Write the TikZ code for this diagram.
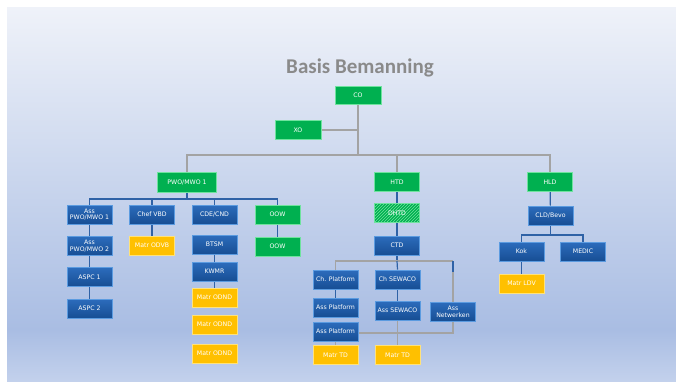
\documentclass[tikz,border=0pt]{standalone}
\usepackage{fontspec}
\setsansfont{DejaVu Sans}
\newfontfamily\titlefont{Carlito}
\usepackage{tikz}
\usetikzlibrary{patterns,shadows}

\definecolor{orggreen}{HTML}{00B050}
\definecolor{orggreenlt}{HTML}{6FE39E}
\definecolor{orgblue}{HTML}{1D5CAA}
\definecolor{orgbluetop}{HTML}{2C6CBC}
\definecolor{orgbluebot}{HTML}{174E94}
\definecolor{orgbluelt}{HTML}{5B9BE0}
\definecolor{orgyellow}{HTML}{FFC000}
\definecolor{orgyellowlt}{HTML}{FFE27A}
\definecolor{linegray}{HTML}{A3A3A3}
\definecolor{lineblue}{HTML}{2F62A6}
\definecolor{titlegray}{HTML}{8A8A8A}
\definecolor{bgtop}{HTML}{EFF2F9}
\definecolor{bgmid}{HTML}{A9BDE3}
\definecolor{bgbot}{HTML}{C3D1EC}

\pgfdeclarelayer{bg}
\pgfdeclarelayer{lines}
\pgfsetlayers{bg,lines,main}

\begin{document}
\begin{tikzpicture}[x=1pt,y=-1pt,
  font=\sffamily\fontsize{6.2}{6.8}\selectfont,
  box/.style={rectangle,minimum width=45pt,minimum height=19pt,inner sep=0pt,
    text=white,align=center,line width=0.8pt,
    drop shadow={opacity=0.35,shadow xshift=0.8pt,shadow yshift=-0.8pt}},
  gbox/.style={box,fill=orggreen,draw=orggreenlt},
  bbox/.style={box,top color=orgbluetop,bottom color=orgbluebot,draw=orgbluelt},
  ybox/.style={box,fill=orgyellow,draw=orgyellowlt},
  gline/.style={draw=linegray,line width=1.2pt},
  bline/.style={draw=lineblue,line width=1.2pt}]
  \useasboundingbox (0,0) rectangle (676,381);
  \begin{pgfonlayer}{bg}
    \fill[white] (0,0) rectangle (676,381);
    \shade[top color=bgtop,bottom color=bgmid] (7,7) rectangle (676,330);
    \shade[top color=bgmid,bottom color=bgbot] (7,330) rectangle (676,381);
  \end{pgfonlayer}

  \node[text=titlegray,font=\titlefont\bfseries\fontsize{21}{24}\selectfont] (title) at (360,68) {Basis Bemanning};

  % top
  \node[gbox,minimum width=46pt,minimum height=18pt] (co) at (358,95) {CO};
  \node[gbox,minimum width=46pt] (xo) at (298,130) {XO};
  \coordinate (hub) at (358,155);

  % first row
  \node[gbox,minimum width=59pt,minimum height=20pt] (pwo) at (187,182) {PWO/MWO 1};
  \node[gbox] (htd) at (397,182) {HTD};
  \node[gbox] (hld) at (550,182) {HLD};

  % PWO/MWO 1
  \coordinate (pwohub) at (187,199);
  \node[bbox] (asspwoa) at (89.5,214.5) {Ass\\PWO/MWO 1};
  \node[bbox] (asspwob) at (89.5,246) {Ass\\PWO/MWO 2};
  \node[bbox] (aspca) at (89.5,277) {ASPC 1};
  \node[bbox] (aspcb) at (89.5,308.5) {ASPC 2};
  \node[bbox] (chefvbd) at (152,214.5) {Chef VBD};
  \node[ybox] (matrodvb) at (152,245.5) {Matr ODVB};
  \node[bbox] (cdecnd) at (214.5,214.5) {CDE/CND};
  \node[bbox] (btsm) at (214.5,244.5) {BTSM};
  \node[bbox] (kwmr) at (214.5,271.5) {KWMR};
  \node[ybox] (matrodnda) at (214.5,297.5) {Matr ODND};
  \node[ybox] (matrodndb) at (214.5,324.5) {Matr ODND};
  \node[ybox] (matrodndc) at (214.5,353.5) {Matr ODND};
  \node[gbox] (oowa) at (277.5,214.5) {OOW};
  \node[gbox] (oowb) at (277.5,246.5) {OOW};

  % HTD
  \node[gbox,postaction={pattern=north east lines,pattern color=orggreenlt}] (dhtd) at (397,213) {DHTD};
  \node[bbox] (ctd) at (397,245.5) {CTD};
  \coordinate (ctdhub) at (397,261);
  \node[bbox] (chplat) at (335.5,279.5) {Ch. Platform};
  \node[bbox] (assplata) at (335.5,307.5) {Ass Platform};
  \node[bbox] (assplatb) at (335.5,331.5) {Ass Platform};
  \node[ybox] (matrtda) at (335.5,355) {Matr TD};
  \node[bbox] (chsewaco) at (397.5,279.5) {Ch SEWACO};
  \node[bbox] (asssewaco) at (397.5,310.5) {Ass SEWACO};
  \node[ybox] (matrtdb) at (397.5,355) {Matr TD};
  \node[bbox] (assnet) at (453,311.5) {Ass\\Netwerken};
  \coordinate (nettop) at (453,261);
  \coordinate (netbend) at (453,272);
  \coordinate (netlow) at (453,333);

  % HLD
  \node[bbox] (cldbevo) at (550.5,215.5) {CLD/Bevo};
  \coordinate (cldhub) at (550.5,235);
  \node[bbox] (kok) at (521.5,251.5) {Kok};
  \node[bbox] (medic) at (583,251.5) {MEDIC};
  \node[ybox] (matrldv) at (521.5,283.5) {Matr LDV};

  \begin{pgfonlayer}{lines}
    \draw[gline] (co) -- (hub);
    \draw[gline] (xo.east) -- (xo.east -| hub);
    \draw[gline] (pwo.north) |- (hub);
    \draw[gline] (hld.north) |- (hub);
    \draw[gline] (htd.north) -- (htd.north |- hub);

    \draw[bline] (pwo.south) -- (pwohub);
    \foreach \n in {asspwoa,chefvbd,cdecnd,oowa}
      \draw[bline] (pwohub) -| (\n.north);
    \foreach \a/\b in {asspwoa/asspwob,asspwob/aspca,aspca/aspcb,chefvbd/matrodvb,
                       btsm/kwmr,kwmr/matrodnda,oowa/oowb}
      \draw[bline] (\a) -- (\b);

    \draw[bline] (htd) -- (dhtd);
    \draw[bline] (dhtd) -- (ctd);
    \draw[bline] (ctd) -- (ctdhub);
    \draw[gline] (chplat.north) |- (nettop);
    \draw[bline] (chsewaco.north) -- (ctdhub);
    \draw[bline] (chplat) -- (assplata);
    \draw[gline] (assplatb) -- (matrtda);
    \draw[bline] (chsewaco) -- (asssewaco);
    \draw[gline] (asssewaco) -- (matrtdb);
    \draw[gline] (nettop) -- (netlow) -- (assplatb.east |- netlow);
    \draw[bline] (nettop) -- (netbend);

    \draw[bline] (hld) -- (cldbevo);
    \draw[bline] (cldbevo.south) -- (cldhub);
    \draw[bline] (cldhub) -| (kok.north);
    \draw[bline] (cldhub) -| (medic.north);
    \draw[bline] (kok) -- (matrldv);
  \end{pgfonlayer}
\end{tikzpicture}
\end{document}
